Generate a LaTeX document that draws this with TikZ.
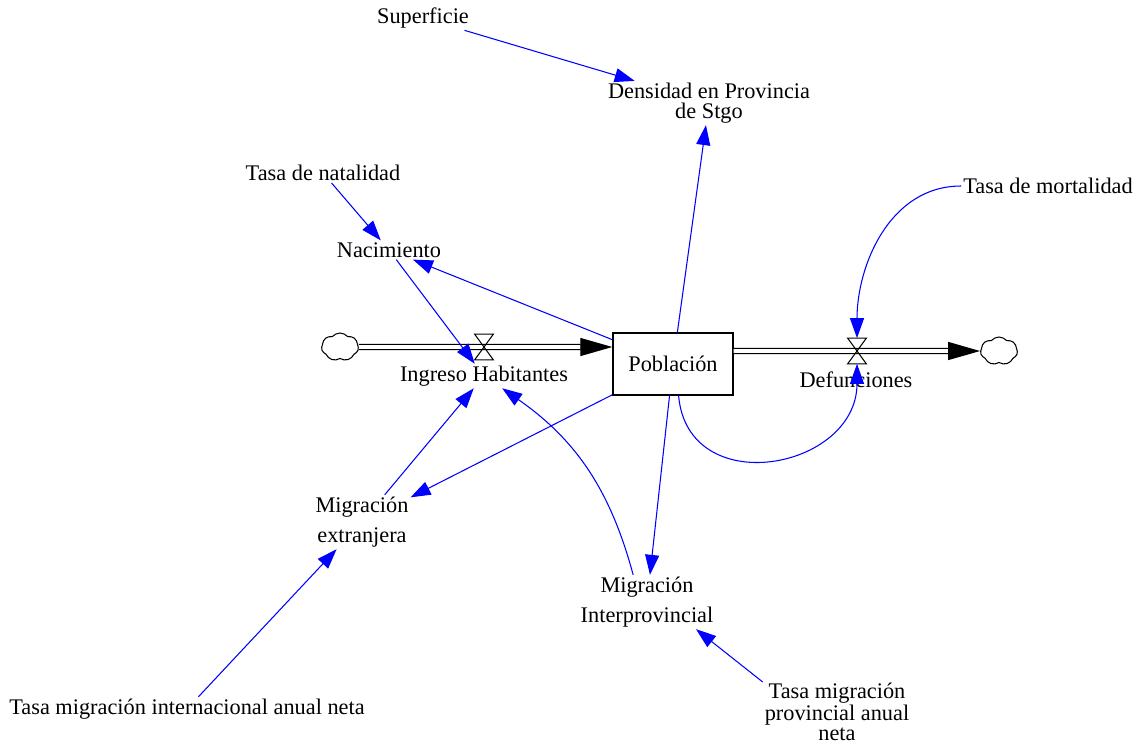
\documentclass[tikz,border=0pt]{standalone}
\usepackage{fontspec}
\setmainfont{Liberation Serif}
\usetikzlibrary{arrows.meta,shapes.symbols}

\begin{document}
\begin{tikzpicture}[
  x=0.02cm, y=-0.02cm,
  every node/.style={font=\fontsize{12.7}{11.2}\selectfont, align=center, inner sep=1pt},
  twoline/.style={font=\fontsize{12.7}{17}\selectfont},
  stock/.style={draw, line width=0.8pt, minimum width=2.4cm, minimum height=1.24cm},
  valve/.style={minimum width=0.36cm, minimum height=0.5cm, inner sep=0pt},
  source/.style={cloud, cloud puffs=7, cloud puff arc=100, draw, line width=0.6pt,
    minimum width=0.74cm, minimum height=0.56cm, inner sep=0pt},
  pipe/.style={double, line width=0.7pt, double distance=2.2pt,
    -{Triangle[length=0.64cm,width=0.36cm]}},
  link/.style={blue, line width=0.6pt, -{Triangle[length=0.4cm,width=0.28cm]}}
]
  \useasboundingbox (0,0) rectangle (1142,744);

  % stock, sources and valves
  \node[stock] (pob) at (673,364) {Población};
  \node[source] (cloudL) at (340,347) {};
  \node[source] (cloudR) at (999,351) {};
  \node[valve] (vIn) at (484,347) {};
  \node[valve] (vOut) at (857,351) {};

  \draw[pipe] (cloudL) -- (pob.west |- cloudL);
  \draw[pipe] (pob.east |- cloudR) -- (cloudR);
  \draw[line width=0.6pt] (vIn.north west) -- (vIn.north east) -- (vIn.south west) -- (vIn.south east) -- cycle;
  \draw[line width=0.6pt] (vOut.north west) -- (vOut.north east) -- (vOut.south west) -- (vOut.south east) -- cycle;

  % variables
  \node (sup) at (423,18) {Superficie};
  \node (dens) at (709,103) {Densidad en Provincia\\de Stgo};
  \node (tnat) at (323,173) {Tasa de natalidad};
  \node (nac) at (389,250) {Nacimiento};
  \node (tmort) at (1048,186) {Tasa de mortalidad};
  \node (ingreso) at (484,376) {Ingreso Habitantes};
  \node (defun) at (856,380) {Defunciones};
  \node[twoline] (mext) at (362,522) {Migración\\extranjera};
  \node[twoline] (mint) at (647,602) {Migración\\Interprovincial};
  \node (tmi) at (187,709) {Tasa migración internacional anual neta};
  \node (tmp) at (837,712) {Tasa migración\\provincial anual\\neta};

  % links
  \draw[link] (sup) -- (dens);
  \draw[link] (pob) -- (dens);
  \draw[link] (tnat) -- (nac);
  \draw[link] (pob) -- (nac);
  \draw[link] (nac) -- (ingreso);
  \draw[link] (mext) -- (ingreso);
  \draw[link] (pob) -- (mext);
  \draw[link] (mint.117) to[bend right=20] (ingreso.-34);
  \draw[link] (pob) -- (mint);
  \draw[link] (tmi) -- (mext);
  \draw[link] (tmp.158) -- (mint.-29);
  \draw[link] (tmort.west) to[out=180,in=90] (vOut.north);
  \draw[link] (pob.-80) to[out=-85,in=-90,looseness=1.5] (vOut.south);
\end{tikzpicture}
\end{document}
